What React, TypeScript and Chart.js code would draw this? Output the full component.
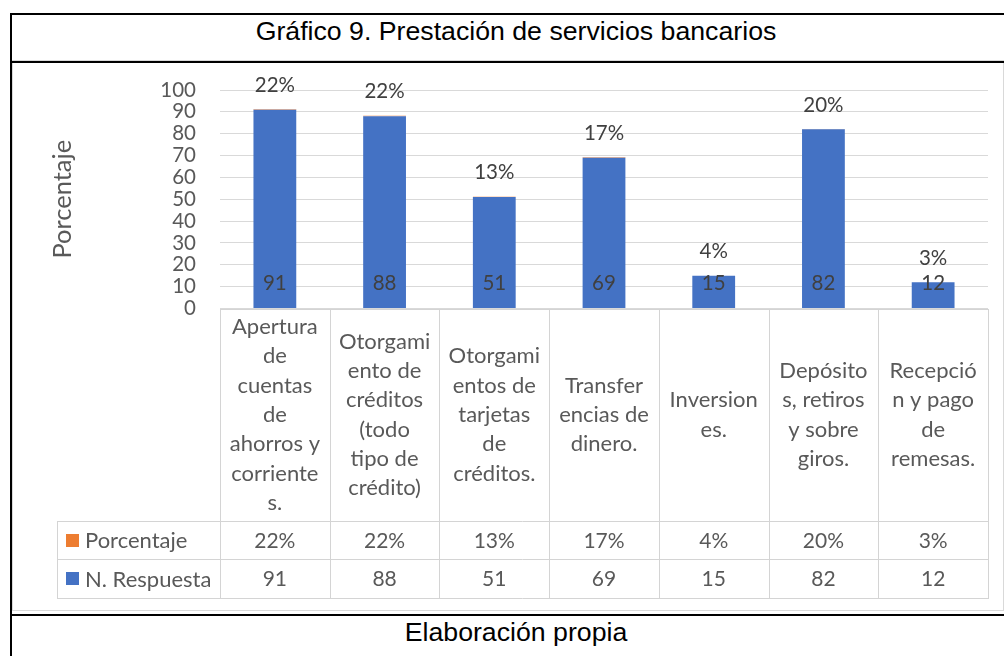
import React, { useEffect, useRef } from "react";
import { Chart, registerables } from "chart.js";

Chart.register(...registerables);

const chartTitle = "Gráfico 9. Prestación de servicios bancarios";
const footerText = "Elaboración propia";
const yAxisTitle = "Porcentaje";

const categories: string[][] = [
  ["Apertura", "de", "cuentas", "de", "ahorros y", "corriente", "s."],
  ["Otorgami", "ento de", "créditos", "(todo", "tipo de", "crédito)"],
  ["Otorgami", "entos de", "tarjetas", "de", "créditos."],
  ["Transfer", "encias de", "dinero."],
  ["Inversion", "es."],
  ["Depósito", "s, retiros", "y sobre", "giros."],
  ["Recepció", "n y pago", "de", "remesas."],
];

const seriesNames = ["N. Respuesta", "Porcentaje"];
const respuestas = [91, 88, 51, 69, 15, 82, 12];
const porcentajes = [0.22, 0.22, 0.13, 0.17, 0.04, 0.2, 0.03];
const porcentajeLabels = ["22%", "22%", "13%", "17%", "4%", "20%", "3%"];
const respuestaLabels = ["91", "88", "51", "69", "15", "82", "12"];

const BLUE = "#4472C4";
const ORANGE = "#ED7D31";
const GRID = "#D9D9D9";
const TEXT = "#595959";
const LABEL = "#404040";
const FONT = "Lato, 'Noto Sans', sans-serif";

const line = (ctx: CanvasRenderingContext2D, x1: number, y1: number, x2: number, y2: number) => {
  ctx.beginPath();
  ctx.moveTo(x1, y1);
  ctx.lineTo(x2, y2);
  ctx.stroke();
};

const borderPlugin = {
  id: "outerBorder",
  beforeDraw(chart: any) {
    const { ctx, width, height } = chart;
    ctx.save();
    ctx.fillStyle = "#fff";
    ctx.fillRect(0, 0, width, height);
    ctx.strokeStyle = GRID;
    ctx.lineWidth = 1;
    ctx.strokeRect(0.5, 0.5, width - 1, height - 1);
    ctx.restore();
  },
};

const dataLabelPlugin = {
  id: "dataLabels",
  afterDatasetsDraw(chart: any) {
    const { ctx } = chart;
    ctx.save();
    ctx.font = `20.5px ${FONT}`;
    ctx.fillStyle = LABEL;
    ctx.textAlign = "center";
    ctx.textBaseline = "middle";
    const m0 = chart.getDatasetMeta(0);
    const m1 = chart.getDatasetMeta(1);
    m0.data.forEach((bar: any, i: number) => {
      ctx.fillText(respuestaLabels[i], bar.x, bar.base - 25);
    });
    m1.data.forEach((bar: any, i: number) => {
      ctx.fillText(porcentajeLabels[i], bar.x, bar.y - 24);
    });
    ctx.restore();
  },
};

const tablePlugin = {
  id: "dataTable",
  afterDraw(chart: any) {
    const { ctx, chartArea } = chart;
    const xs = chart.scales.x;
    const n = categories.length;
    const colW = (chartArea.right - chartArea.left) / n;
    const top = Math.round(chartArea.bottom);
    const r1 = top + 212;
    const r2 = r1 + 38;
    const r3 = r2 + 39;
    const legendLeft = 45;
    const L = chartArea.left;
    const R = chartArea.right;
    ctx.save();
    ctx.strokeStyle = "#D4D4D4";
    ctx.lineWidth = 1;
    line(ctx, L, top + 0.5, R, top + 0.5);
    [r1, r2, r3].forEach((y) => line(ctx, legendLeft, y + 0.5, R, y + 0.5));
    for (let i = 0; i <= n; i++) {
      const x = Math.round(L + i * colW) + 0.5;
      line(ctx, x, top, x, r3 + 1);
    }
    line(ctx, legendLeft + 0.5, r1, legendLeft + 0.5, r3 + 1);

    ctx.fillStyle = TEXT;
    ctx.textAlign = "center";
    ctx.textBaseline = "middle";
    const lh = 29.3;
    const midCat = (top + r1) / 2;
    categories.forEach((lines, i) => {
      const cx = xs.getPixelForValue(i);
      ctx.font = `22px ${FONT}`;
      const y0 = midCat - ((lines.length - 1) * lh) / 2;
      lines.forEach((t, k) => ctx.fillText(t, cx, y0 + k * lh));
      ctx.font = `21px ${FONT}`;
      ctx.fillText(porcentajeLabels[i], cx, (r1 + r2) / 2 + 1);
      ctx.fillText(String(respuestas[i]), cx, (r2 + r3) / 2 + 1);
    });

    // legend keys
    ctx.textAlign = "left";
    ctx.font = `22px ${FONT}`;
    const rows = [
      { name: seriesNames[1], color: ORANGE, y: (r1 + r2) / 2 },
      { name: seriesNames[0], color: BLUE, y: (r2 + r3) / 2 },
    ];
    rows.forEach((r) => {
      ctx.fillStyle = r.color;
      ctx.fillRect(54, Math.round(r.y - 6.5), 13, 13);
      ctx.fillStyle = TEXT;
      ctx.fillText(r.name, 73, r.y + 1);
    });
    ctx.restore();
  },
};

export default function App() {
  const ref = useRef<HTMLCanvasElement | null>(null);

  useEffect(() => {
    if (!ref.current) return;
    const chart = new Chart(ref.current, {
      type: "bar",
      data: {
        labels: categories.map((c) => c.join(" ")),
        datasets: [
          {
            label: seriesNames[0],
            data: respuestas,
            backgroundColor: BLUE,
            categoryPercentage: 1,
            barPercentage: 0.39,
          },
          {
            label: seriesNames[1],
            data: porcentajes,
            backgroundColor: ORANGE,
            categoryPercentage: 1,
            barPercentage: 0.39,
          },
        ],
      },
      options: {
        animation: false,
        responsive: false,
        maintainAspectRatio: false,
        layout: { padding: { left: 30, right: 16, top: 30, bottom: 302.5 } },
        plugins: {
          legend: { display: false },
          tooltip: { enabled: false },
        },
        scales: {
          x: { display: false, stacked: true, grid: { display: false } },
          y: {
            stacked: true,
            min: 0,
            max: 100,
            ticks: {
              stepSize: 10,
              autoSkip: false,
              padding: 24,
              color: TEXT,
              font: { family: FONT, size: 20.5, lineHeight: 1 },
            },
            grid: { color: GRID, drawTicks: false },
            border: { display: false },
            title: {
              display: true,
              text: yAxisTitle,
              color: TEXT,
              font: { family: FONT, size: 25.5 },
              padding: { top: 5.7, bottom: 0 },
            },
            afterFit: (s: any) => {
              s.width = 178;
              s.paddingTop = 11;
              s.paddingBottom = 11;
            },
          },
        },
      },
      plugins: [borderPlugin, dataLabelPlugin, tablePlugin],
    });
    return () => chart.destroy();
  }, []);

  const blk = (style: React.CSSProperties) => (
    <div style={{ position: "absolute", background: "#000", ...style }} />
  );

  return (
    <div
      style={{
        position: "absolute",
        left: 0,
        top: 0,
        width: 1004,
        height: 656,
        overflow: "hidden",
        background: "#fff",
      }}
    >
      <canvas
        ref={ref}
        width={992}
        height={551}
        style={{ position: "absolute", left: 12, top: 60, width: 992, height: 551 }}
      />
      {blk({ left: 10, top: 13, width: 994, height: 2 })}
      {blk({ left: 10, top: 13, width: 2, height: 643 })}
      {blk({ left: 10, top: 61, width: 994, height: 2 })}
      {blk({ left: 10, top: 614, width: 994, height: 2 })}
      <div
        style={{
          position: "absolute",
          left: 12,
          width: 1008,
          top: 18,
          textAlign: "center",
          fontFamily: "'Liberation Sans', Arial, sans-serif",
          fontSize: 26.7,
          lineHeight: "26.7px",
          color: "#000",
          whiteSpace: "nowrap",
        }}
      >
        {chartTitle}
      </div>
      <div
        style={{
          position: "absolute",
          left: 12,
          width: 1008,
          top: 619,
          textAlign: "center",
          fontFamily: "'Liberation Sans', Arial, sans-serif",
          fontSize: 26.7,
          lineHeight: "26.7px",
          color: "#000",
          whiteSpace: "nowrap",
        }}
      >
        {footerText}
      </div>
    </div>
  );
}
